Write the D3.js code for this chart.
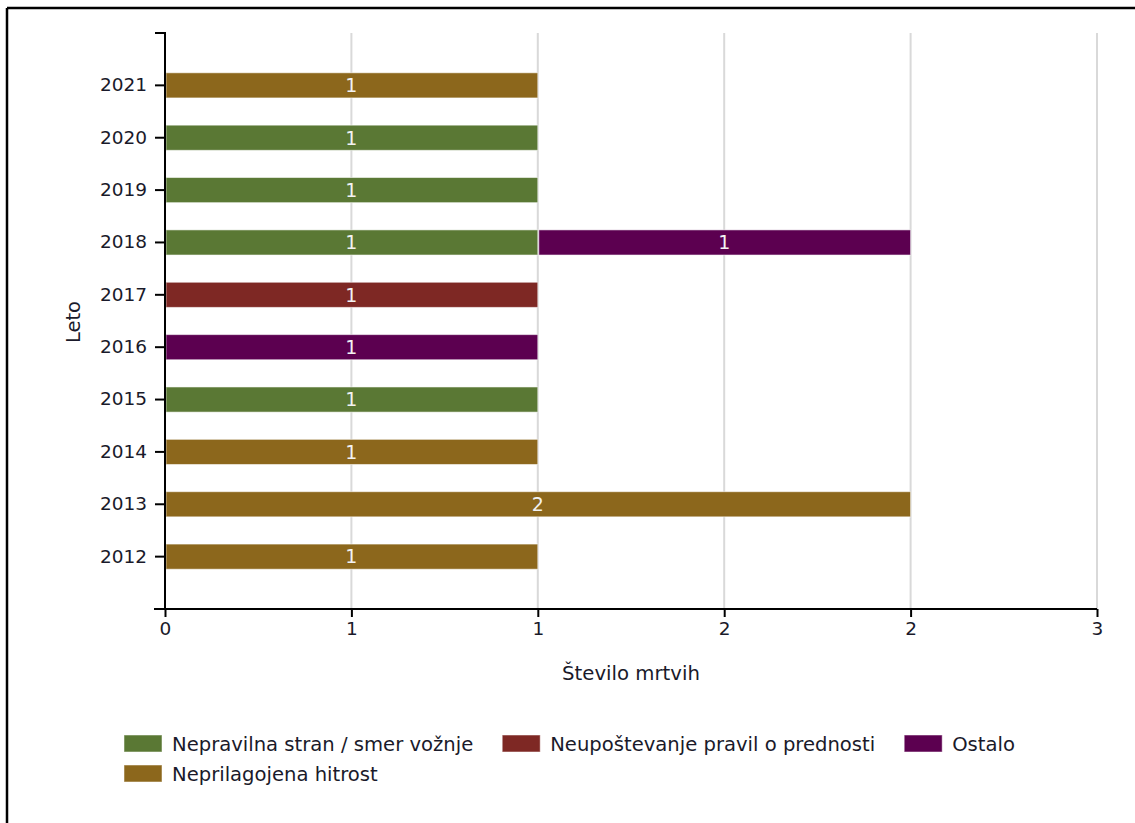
<!DOCTYPE html>
<html>
<head>
<meta charset="utf-8">
<script src="https://cdn.jsdelivr.net/npm/d3@7"></script>
<style>
  html, body { margin: 0; padding: 0; background: #fff; }
  svg { display: block; font-family: "DejaVu Sans", Verdana, sans-serif; }
</style>
</head>
<body>
<svg id="chart" width="1135" height="823"></svg>
<script>
// ---- data ----
const years = ["2012","2013","2014","2015","2016","2017","2018","2019","2020","2021"];
const seriesNames = ["Nepravilna stran / smer vožnje", "Neupoštevanje pravil o prednosti", "Ostalo", "Neprilagojena hitrost"];
const seriesColors = ["#5A7834", "#7E2824", "#5C0050", "#8C671C"];
const nepravilnaStran = [0, 0, 0, 1, 0, 0, 1, 1, 1, 0];
const neupostevanjePrednosti = [0, 0, 0, 0, 0, 1, 0, 0, 0, 0];
const ostalo = [0, 0, 0, 0, 1, 0, 1, 0, 0, 0];
const neprilagojenaHitrost = [1, 2, 1, 0, 0, 0, 0, 0, 0, 1];
const xTickValues = [0, 0.5, 1, 1.5, 2, 2.5];
const xTickLabels = ["0", "1", "1", "2", "2", "3"];
const xTitle = "Število mrtvih";
const yTitle = "Leto";

(function () {
const seriesValues = [nepravilnaStran, neupostevanjePrednosti, ostalo, neprilagojenaHitrost];
const table = years.map((yr, i) => {
  const row = { year: yr };
  seriesNames.forEach((s, k) => row[s] = seriesValues[k][i]);
  return row;
});

const svg = d3.select("#chart");

// frame (left + top border)
svg.append("line").attr("x1", 7).attr("y1", 8).attr("x2", 1135).attr("y2", 8)
  .attr("stroke", "#000").attr("stroke-width", 2.5);
svg.append("line").attr("x1", 7).attr("y1", 8).attr("x2", 7).attr("y2", 823)
  .attr("stroke", "#000").attr("stroke-width", 2.5);

const pLeft = 165, pRight = 1097, pTop = 33, pBottom = 609;

const x = d3.scaleLinear().domain([0, 2.5]).range([pLeft, pRight]);
const y = d3.scaleBand().domain(years.slice().reverse()).range([pTop, pBottom])
  .paddingInner(0.52).paddingOuter(0.76);

// gridlines
svg.append("g").selectAll("line").data(xTickValues.slice(1)).join("line")
  .attr("x1", d => x(d)).attr("x2", d => x(d))
  .attr("y1", pTop).attr("y2", pBottom)
  .attr("stroke", "#d9d9d9").attr("stroke-width", 2);

// stacked bars
const stacked = d3.stack().keys(seriesNames)(table);
const gBars = svg.append("g");
stacked.forEach((layer, k) => {
  const g = gBars.append("g").attr("fill", seriesColors[k]);
  const segs = layer.filter(d => d[1] - d[0] > 0);
  g.selectAll("rect").data(segs).join("rect")
    .attr("x", d => x(d[0]) + 1)
    .attr("y", d => y(d.data.year))
    .attr("width", d => x(d[1]) - x(d[0]) - 1)
    .attr("height", y.bandwidth())
    .attr("stroke", "rgba(255,255,255,0.55)")
    .attr("stroke-width", 1);
  g.selectAll("text").data(segs).join("text")
    .attr("x", d => x((d[0] + d[1]) / 2))
    .attr("y", d => y(d.data.year) + y.bandwidth() / 2)
    .attr("dy", "0.36em")
    .attr("text-anchor", "middle")
    .attr("fill", "#f2f2f2")
    .attr("font-size", "19px")
    .text(d => d[1] - d[0]);
});

// y axis
const yAxis = d3.axisLeft(y).tickSize(10).tickSizeOuter(10).tickPadding(8);
const gy = svg.append("g").attr("transform", `translate(${pLeft},0)`).call(yAxis);
gy.select(".domain").attr("d", `M-10,${pTop}H0V${pBottom}H-10`).attr("stroke-width", 2);
gy.selectAll(".tick line").attr("stroke-width", 2);
gy.selectAll(".tick text").attr("font-size", "18.5px").attr("fill", "#1a1a2a")
  .attr("font-family", "DejaVu Sans, sans-serif");

// x axis
const xAxis = d3.axisBottom(x).tickValues(xTickValues)
  .tickFormat((d, i) => xTickLabels[i]).tickSize(8).tickSizeOuter(0).tickPadding(5);
const gx = svg.append("g").attr("transform", `translate(0,${pBottom})`).call(xAxis);
gx.select(".domain").attr("d", `M${pLeft - 11},0H${pRight}`).attr("stroke-width", 2);
gx.selectAll(".tick line").attr("stroke-width", 2);
gx.selectAll(".tick text").attr("font-size", "18.5px").attr("fill", "#1a1a2a")
  .attr("font-family", "DejaVu Sans, sans-serif");

// axis titles
svg.append("text").attr("x", 631).attr("y", 673).attr("dy", "0.36em")
  .attr("text-anchor", "middle").attr("font-size", "19.7px").attr("fill", "#1a1a2a")
  .text(xTitle);
svg.append("text").attr("transform", "translate(73,322) rotate(-90)").attr("dy", "0.36em")
  .attr("text-anchor", "middle").attr("font-size", "19.5px").attr("fill", "#1a1a2a")
  .text(yTitle);

// legend (flow layout)
const legend = svg.append("g");
let lx = 124, ly = 735;
const legendRight = 1060, rowH = 30;
seriesNames.forEach((name, k) => {
  const item = legend.append("g");
  item.append("rect").attr("width", 38).attr("height", 17).attr("fill", seriesColors[k])
    .attr("stroke", "rgba(255,255,255,0.5)").attr("stroke-width", 1);
  const t = item.append("text").attr("x", 48).attr("y", 8.5).attr("dy", "0.36em")
    .attr("font-size", "19.6px").attr("fill", "#1a1a2a").text(name);
  const w = 48 + t.node().getComputedTextLength();
  if (lx + w > legendRight && lx > 124) { lx = 124; ly += rowH; }
  item.attr("transform", `translate(${lx},${ly})`);
  lx += w + 29;
});
})();
</script>
</body>
</html>
